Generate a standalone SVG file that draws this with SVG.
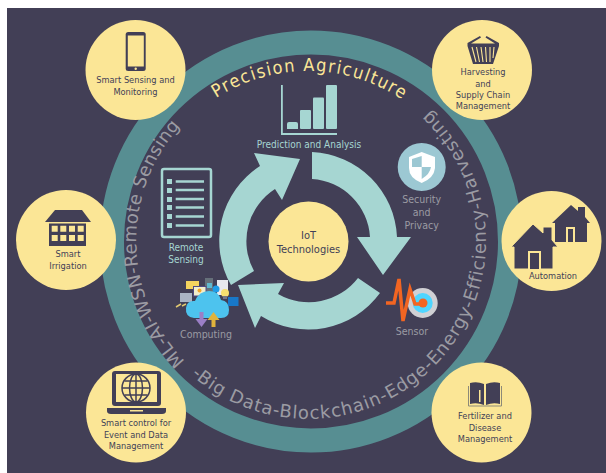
<svg xmlns="http://www.w3.org/2000/svg" width="606" height="473" viewBox="0 0 606 473">
<style>
text{font-family:"DejaVu Sans Condensed","DejaVu Sans",sans-serif;text-anchor:middle}
.y{fill:#fbe696}.d{fill:#423f56}.t{fill:#423f56;font-size:9.2px}.a{fill:#a6d6d2}
.i{font-size:10px;fill:#a6d6d2}.g{font-size:10.5px;fill:#9b9ba3}
.c{font-family:"DejaVu Sans",sans-serif;font-size:18px;fill:#9b9ba3;text-anchor:start}
</style>
<defs>
<path id="pa" d="M216,98 A170,170 0 0 1 415,109"/>
<path id="pl" d="M185,361 A172,172 0 0 1 203,105"/>
<path id="pr" d="M191,375 A178,178 0 0 0 486,241 A178,178 0 0 0 400,89"/>
</defs>
<rect width="606" height="473" fill="#fff"/>
<rect x="7" y="8" width="599" height="465" class="d"/>
<circle id="ring" cx="311" cy="241.500" r="199" fill="none" stroke="#578e92" stroke-width="24"/>
<g id="curved-text">
<text style="font-size:18px;text-anchor:start;letter-spacing:1.500px" class="y"><textPath href="#pa">Precision Agriculture</textPath></text>
<text class="c" style="letter-spacing:0.350px"><textPath href="#pl">ML-AI-WSN-Remote Sensing</textPath></text>
<text class="c" style="letter-spacing:0.900px"><textPath href="#pr">-Big Data-Blockchain-Edge-Energy-Efficiency-Harvesting</textPath></text>
</g>
<g id="connectors">
<path class="a" d="M312,152 A89,89 0 0 1 397,237 L411,237 L383,275 L357,237 L370,237 A62,62 0 0 0 312,179 Z"/>
<path class="a" d="M380,293 A89,89 0 0 1 261,316 L255,328 L238,285 L284,283 L278,294 A62,62 0 0 0 358,278 Z"/>
<path class="a" d="M231,285 A89,89 0 0 1 260,166 L254,153 L300,159 L282,200 L275,189 A62,62 0 0 0 254,271 Z"/>
</g>
<g id="iot"><circle cx="308.500" cy="241.500" r="40" class="y"/>
<text x="308.500" y="239" class="t" style="font-size:11px">IoT</text><text x="308.500" y="252.500" class="t" style="font-size:11px">Technologies</text></g>
<g id="smart-sensing"><circle cx="135.500" cy="70" r="50" class="y"/>
<rect x="125.700" y="32" width="20" height="39" rx="2.500" class="d"/><rect x="127.800" y="35.500" width="16" height="31" class="y"/><circle cx="135.700" cy="68.700" r="1.200" class="y"/>
<text x="135.500" y="83" class="t">Smart Sensing and</text><text x="135.500" y="94.500" class="t">Monitoring</text></g>
<g id="harvesting"><circle cx="482" cy="70" r="50" class="y"/>
<path class="d" d="M467.500,43 L480,36 L481,37.500 L471,43.500 H495 L485.500,37.500 L486.500,36 L499,43 V46 L493,64 H473 L467.500,46 Z"/>
<path d="M472,47 L476,62 M476.500,47 L479.500,62 M481,47 L483,62 M485.500,47 L486.500,62 M490,47 L490,62 M494,47 L493,58" stroke="#fbe696" stroke-width="1.100" fill="none"/>
<text x="483" y="75" class="t">Harvesting</text><text x="483" y="86.500" class="t">and</text><text x="483" y="98" class="t">Supply Chain</text><text x="483" y="109" class="t">Management</text></g>
<g id="smart-irrigation"><circle cx="66" cy="240" r="50" class="y"/>
<path class="d" d="M55,210 H82 L91,222 H45 Z"/><rect x="49" y="223.500" width="37" height="22.500" class="d"/>
<path class="y" d="M51.700,225.700h6v6h-6zM60.300,225.700h6v6h-6zM69,225.700h6v6h-6zM77.700,225.700h6v6h-6zM51.700,235h6v6h-6zM60.300,235h6v6h-6zM69,235h6v6h-6zM77.700,235h6v6h-6z"/>
<text x="68" y="257" class="t">Smart</text><text x="68" y="268.500" class="t">Irrigation</text></g>
<g id="automation"><circle cx="551.500" cy="241" r="50" class="y"/>
<path class="d" d="M571,205 L578,211 V207 H585 V217 L590,223 H587 V242 H555 V223 H552 Z"/><rect x="566" y="227" width="9" height="15" class="y"/><rect x="568" y="229" width="5" height="13" class="d"/>
<path class="d" stroke="#fbe696" stroke-width="1" d="M533,224 L543,233 V227 H552 V240 L558,247 H553 V269 H514 V247 H511 Z"/><rect x="528" y="251" width="13" height="18" class="y"/><rect x="530" y="253" width="9" height="16" class="d"/>
<text x="553" y="279" class="t">Automation</text></g>
<g id="smart-control"><circle cx="136" cy="412.500" r="50" class="y"/>
<rect x="112" y="371" width="49" height="35" rx="3" class="d"/><rect x="116" y="374" width="41" height="28" class="y"/>
<g fill="none" stroke="#423f56" stroke-width="1.500"><circle cx="136" cy="388" r="14"/><ellipse cx="136" cy="388" rx="6.500" ry="14"/><path d="M136,374V402M122,388H150M124.500,381H147.500M124.500,395H147.500"/></g>
<path class="d" d="M107,408 H166 V411 Q166,414 162,414 H111 Q107,414 107,411 Z"/><rect x="130" y="410" width="13" height="1.500" class="y"/>
<text x="136" y="426" class="t">Smart control for</text><text x="136" y="437.500" class="t">Event and Data</text><text x="136" y="449" class="t">Management</text></g>
<g id="fertilizer"><circle cx="481.500" cy="412.500" r="50" class="y"/>
<path d="M468.500,386 V406 H501.500 V386" fill="none" stroke="#8d8a78" stroke-width="1"/>
<path class="d" d="M470,383 Q477,381 484,384 V405 Q477,402 470,404 Z M486,384 Q493,381 500,383 V404 Q493,402 486,405 Z"/><rect x="479" y="390" width="1.500" height="12" class="y"/>
<text x="485" y="419" class="t">Fertilizer and</text><text x="485" y="430.500" class="t">Disease</text><text x="485" y="441.500" class="t">Management</text></g>
<g id="prediction">
<path class="a" d="M281,85 h1.800 v48 h54.200 v2 h-56 Z"/>
<path class="a" d="M287,124 q0,-2 2,-2 h7 q2,0 2,2 v5 h-11 Z"/><rect x="300" y="110" width="11" height="19" class="a" rx="1"/><rect x="313" y="97.500" width="11" height="31.500" class="a" rx="1"/><rect x="326" y="85" width="11" height="44" class="a" rx="1"/>
<text x="309" y="148" class="i">Prediction and Analysis</text></g>
<g id="remote-sensing">
<rect x="162" y="169" width="49" height="68" rx="2" fill="none" stroke="#a6d6d2" stroke-width="2.500"/>
<path class="a" d="M167,179h5v5h-5zM167,188h5v5h-5zM167,197h5v5h-5zM167,205h5v5h-5zM167,214h5v5h-5zM167,223h5v5h-5z"/>
<path d="M175.700,181.500H204M175.700,190H204M175.700,199H204M175.700,207.500H204M175.700,216.500H204M175.700,225.500H204" stroke="#a6d6d2" stroke-width="2.400"/>
<text x="186" y="251" class="i">Remote</text><text x="186" y="263" class="i">Sensing</text></g>
<g id="computing">
<rect x="186" y="281" width="13" height="8" fill="#f4d35e"/>
<rect x="205" y="278" width="8" height="14" fill="#66707a"/><rect x="207" y="283" width="5" height="5" fill="#5fb8cf"/>
<rect x="193.500" y="286.500" width="12.500" height="9.500" fill="#f2eecb" stroke="#4e4a86" stroke-width="1"/><circle cx="199.500" cy="290.500" r="2" fill="#f4a62a"/>
<rect x="217" y="280" width="11" height="15" fill="#e9e9ef"/>
<circle cx="216" cy="289" r="3.500" fill="#1e9ce8"/>
<rect x="180" y="293" width="12" height="9" fill="#aab4c4"/>
<path d="M176,307 l5,-3 M182,306 l4,-2" stroke="#e0c870" stroke-width="1.500"/>
<path fill="#4dc3ee" d="M194,318 Q185,317 186,308 Q187,300 195,301 Q199,291 209,291 Q219,291 221,300 Q229,301 229,310 Q229,318 221,318 Z"/>
<circle cx="225" cy="293" r="4" fill="#f7df70"/><rect x="223" y="296" width="4" height="3" fill="#778"/>
<rect x="228" y="297" width="10.500" height="9" fill="#1878c9"/>
<path fill="#9b7fc6" d="M199.500,312 h4 v7 h4 l-6,8 l-6,-8 h4 Z"/>
<path fill="#e0b33c" d="M215.500,327 h-4 v-7 h-4 l6,-8 l6,8 h-4 Z"/>
<text x="206" y="338" class="g">Computing</text></g>
<g id="security"><circle cx="421.700" cy="167" r="24" fill="#9cc8d3"/>
<path fill="#fff" d="M421.700,152 L435,157 V168 Q434,178 421.700,183 Q409,178 409,168 V157 Z"/>
<path fill="#9cc8d3" d="M421.700,156 V167 H412 V159 Z M421.700,167 H431 Q430,174 421.700,179 Z"/>
<text x="421.700" y="203" class="g">Security</text><text x="421.700" y="216" class="g">and</text><text x="421.700" y="229" class="g">Privacy</text></g>
<g id="sensor"><circle cx="422.700" cy="303" r="15" fill="#d0d0d4"/><circle cx="422.700" cy="303" r="10" fill="#4fd5ff"/><circle cx="423" cy="303" r="4.500" fill="#f26522"/>
<path d="M386,303 H394 L399,279 L403,321 L410,289 L415,304 H423" fill="none" stroke="#f26522" stroke-width="3.500"/>
<text x="412" y="335" class="g">Sensor</text></g>
</svg>
